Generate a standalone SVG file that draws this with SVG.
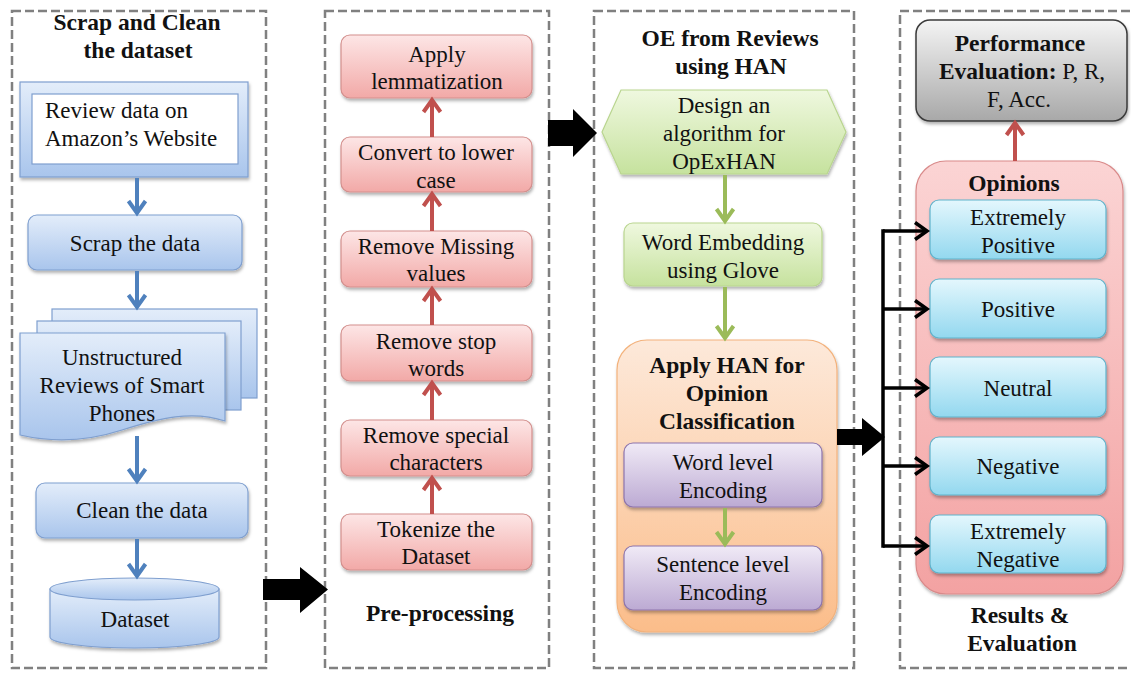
<svg xmlns="http://www.w3.org/2000/svg" width="1131" height="676" viewBox="0 0 1131 676" font-family="'Liberation Serif', 'Times New Roman', serif">
  <style>
    .panel { fill: none; stroke: #808080; stroke-width: 2.5; stroke-dasharray: 9 4; }
    text { font-family: "Liberation Serif", "Times New Roman", serif; font-size: 23px; fill: #111; text-anchor: middle; dominant-baseline: central; }
    .b { font-weight: bold; font-size: 23.5px; }
    .blue { fill: url(#gBlue); stroke: #7f9fcf; stroke-width: 1.2; }
    .red { fill: url(#gRed); stroke: #d38f8d; stroke-width: 1.2; }
    .green { fill: url(#gGreen); stroke: #b9d58f; stroke-width: 1.2; }
    .orange { fill: url(#gOrange); stroke: #f3b27c; stroke-width: 1.2; }
    .purple { fill: url(#gPurple); stroke: #8d75ad; stroke-width: 1.2; }
    .grey { fill: url(#gGrey); stroke: #3a3a3a; stroke-width: 1.5; }
    .pink { fill: url(#gPink); stroke: #d98a8a; stroke-width: 1.2; }
    .cyan { fill: url(#gCyan); stroke: #5fb3cc; stroke-width: 1.2; }
    .shadow { filter: url(#sh); }
    .aBlue { stroke: #4f81bd; stroke-width: 4; fill: none; }
    .aRed { stroke: #c0504d; stroke-width: 4; fill: none; }
    .aGreen { stroke: #9bbb59; stroke-width: 4; fill: none; }
    .aBlack { stroke: #000; stroke-width: 3.5; fill: none; }
    .big { fill: #000; }
  </style>
  <defs>
    <filter id="sh" x="-10%" y="-10%" width="130%" height="140%">
      <feDropShadow dx="1" dy="2.5" stdDeviation="1.5" flood-color="#000" flood-opacity="0.3"/>
    </filter>
    <linearGradient id="gBlue" x1="0" y1="0" x2="0" y2="1">
      <stop offset="0" stop-color="#e3edfa"/><stop offset="1" stop-color="#a9c5ec"/>
    </linearGradient>
    <linearGradient id="gRed" x1="0" y1="0" x2="0" y2="1">
      <stop offset="0" stop-color="#fde6e6"/><stop offset="1" stop-color="#f2a9a7"/>
    </linearGradient>
    <linearGradient id="gGreen" x1="0" y1="0" x2="0" y2="1">
      <stop offset="0" stop-color="#eff8df"/><stop offset="1" stop-color="#c6e29e"/>
    </linearGradient>
    <linearGradient id="gOrange" x1="0" y1="0" x2="0" y2="1">
      <stop offset="0" stop-color="#fde9da"/><stop offset="1" stop-color="#fbbd8a"/>
    </linearGradient>
    <linearGradient id="gPurple" x1="0" y1="0" x2="0" y2="1">
      <stop offset="0" stop-color="#f0eaf6"/><stop offset="1" stop-color="#bcaad3"/>
    </linearGradient>
    <linearGradient id="gGrey" x1="0" y1="0" x2="0" y2="1">
      <stop offset="0" stop-color="#f4f4f4"/><stop offset="1" stop-color="#a8a8a8"/>
    </linearGradient>
    <linearGradient id="gPink" x1="0" y1="0" x2="0" y2="1">
      <stop offset="0" stop-color="#fbd4d4"/><stop offset="1" stop-color="#f3a2a2"/>
    </linearGradient>
    <linearGradient id="gCyan" x1="0" y1="0" x2="0" y2="1">
      <stop offset="0" stop-color="#e4f7fd"/><stop offset="1" stop-color="#93d8ef"/>
    </linearGradient>
    <!-- open chevron arrowhead, tip at the origin, pointing along +x -->
    <path id="chev" d="M-12,-8.5 L0,0 L-12,8.5" stroke-linejoin="miter"/>
  </defs>

  <rect width="1131" height="676" fill="#fff"/>

  <!-- dashed stage panels -->
  <g id="panels">
    <rect class="panel" x="12" y="11" width="254" height="657"/>
    <rect class="panel" x="325" y="11" width="224" height="657"/>
    <rect class="panel" x="594" y="11" width="260" height="657"/>
    <rect class="panel" x="900" y="11" width="240" height="657"/>
  </g>

  <!-- stage titles -->
  <g id="titles">
    <text class="b" x="137" y="22">Scrap and Clean</text>
    <text class="b" x="138" y="50">the dataset</text>
    <text class="b" x="440" y="613">Pre-processing</text>
    <text class="b" x="730" y="38">OE from Reviews</text>
    <text class="b" x="731" y="66">using HAN</text>
    <text class="b" x="1020" y="615">Results &amp;</text>
    <text class="b" x="1022" y="643">Evaluation</text>
  </g>

  <!-- stage 1: scraping and cleaning -->
  <g id="review-data">
    <rect class="blue shadow" x="20" y="82" width="228" height="95"/>
    <rect x="32" y="94" width="206" height="70" fill="#fff" stroke="#7f9fcf" stroke-width="1.2"/>
    <text x="45" y="110" style="text-anchor:start">Review data on</text>
    <text x="45" y="138" style="text-anchor:start">Amazon’s Website</text>
  </g>
  <g id="scrap-data">
    <rect class="blue shadow" x="28" y="215" width="214" height="55" rx="9"/>
    <text x="135" y="243">Scrap the data</text>
  </g>
  <g id="unstructured-reviews">
    <rect class="blue" x="52" y="309" width="205" height="89"/>
    <rect class="blue" x="37" y="321" width="204" height="89"/>
    <path class="blue shadow" d="M20,333 H225 V421 C192,410 160,418 122,430 C85,442 50,442 20,435 Z"/>
    <text x="122" y="357">Unstructured</text>
    <text x="122" y="385">Reviews of Smart</text>
    <text x="122" y="413">Phones</text>
  </g>
  <g id="clean-data">
    <rect class="blue shadow" x="36" y="483" width="212" height="55" rx="9"/>
    <text x="142" y="510">Clean the data</text>
  </g>
  <g id="dataset">
    <path class="blue shadow" d="M50,589 V637 A84.5,11 0 0 0 219,637 V589 Z"/>
    <ellipse class="blue" cx="134.5" cy="589" rx="84.5" ry="11"/>
    <text x="135" y="619">Dataset</text>
  </g>

  <!-- stage 2: pre-processing -->
  <g id="lemmatization">
    <rect class="red shadow" x="341" y="35" width="191" height="63" rx="9"/>
    <text x="437" y="54">Apply</text>
    <text x="437" y="81">lemmatization</text>
  </g>
  <g id="lower-case">
    <rect class="red shadow" x="341" y="137" width="191" height="55" rx="9"/>
    <text x="436" y="152">Convert to lower</text>
    <text x="436" y="180">case</text>
  </g>
  <g id="missing-values">
    <rect class="red shadow" x="341" y="231" width="191" height="56" rx="9"/>
    <text x="436" y="246">Remove Missing</text>
    <text x="436" y="273">values</text>
  </g>
  <g id="stop-words">
    <rect class="red shadow" x="341" y="325" width="191" height="56" rx="9"/>
    <text x="436" y="341">Remove stop</text>
    <text x="436" y="368">words</text>
  </g>
  <g id="special-characters">
    <rect class="red shadow" x="341" y="420" width="191" height="56" rx="9"/>
    <text x="436" y="435">Remove special</text>
    <text x="436" y="462">characters</text>
  </g>
  <g id="tokenize">
    <rect class="red shadow" x="341" y="514" width="191" height="56" rx="9"/>
    <text x="436" y="529">Tokenize the</text>
    <text x="436" y="556">Dataset</text>
  </g>

  <!-- stage 3: opinion extraction with HAN -->
  <g id="design-algorithm">
    <polygon class="green shadow" points="602,132 621,90 827,90 846,132 827,174 621,174"/>
    <text x="724" y="105">Design an</text>
    <text x="724" y="133">algorithm for</text>
    <text x="724" y="161">OpExHAN</text>
  </g>
  <g id="word-embedding">
    <rect class="green shadow" x="624" y="223" width="198" height="63" rx="9"/>
    <text x="723" y="242">Word Embedding</text>
    <text x="723" y="270">using Glove</text>
  </g>
  <g id="apply-han">
    <rect class="orange shadow" x="617" y="340" width="220" height="292" rx="30"/>
    <text class="b" x="727" y="365">Apply HAN for</text>
    <text class="b" x="727" y="393">Opinion</text>
    <text class="b" x="727" y="421">Classification</text>
  </g>
  <g id="word-level">
    <rect class="purple shadow" x="624" y="443" width="198" height="64" rx="9"/>
    <text x="723" y="462">Word level</text>
    <text x="723" y="490">Encoding</text>
  </g>
  <g id="sentence-level">
    <rect class="purple shadow" x="624" y="546" width="198" height="64" rx="9"/>
    <text x="723" y="564">Sentence level</text>
    <text x="723" y="592">Encoding</text>
  </g>

  <!-- stage 4: results and evaluation -->
  <g id="performance">
    <rect class="grey shadow" x="916" y="20" width="211" height="101" rx="14"/>
    <text class="b" x="1020" y="43">Performance</text>
    <text x="1022" y="71"><tspan class="b">Evaluation:</tspan> P, R,</text>
    <text x="1019" y="99">F, Acc.</text>
  </g>
  <g id="opinions">
    <rect class="pink shadow" x="916" y="161" width="207" height="433" rx="30"/>
    <text class="b" x="1014" y="183">Opinions</text>
  </g>
  <g id="extremely-positive">
    <rect class="cyan shadow" x="930" y="200" width="176" height="59" rx="9"/>
    <text x="1018" y="217">Extremely</text>
    <text x="1018" y="245">Positive</text>
  </g>
  <g id="positive">
    <rect class="cyan shadow" x="930" y="279" width="176" height="59" rx="9"/>
    <text x="1018" y="309">Positive</text>
  </g>
  <g id="neutral">
    <rect class="cyan shadow" x="930" y="357" width="176" height="60" rx="9"/>
    <text x="1018" y="388">Neutral</text>
  </g>
  <g id="negative">
    <rect class="cyan shadow" x="930" y="437" width="176" height="58" rx="9"/>
    <text x="1018" y="466">Negative</text>
  </g>
  <g id="extremely-negative">
    <rect class="cyan shadow" x="930" y="515" width="176" height="58" rx="9"/>
    <text x="1018" y="531">Extremely</text>
    <text x="1018" y="559">Negative</text>
  </g>

  <!-- connectors, drawn over the shapes -->
  <g id="connectors">
    <g class="aBlue">
      <line x1="137" y1="178" x2="137" y2="212"/>
      <use href="#chev" transform="translate(137,213) rotate(90)"/>
      <line x1="137" y1="271" x2="137" y2="306"/>
      <use href="#chev" transform="translate(137,307) rotate(90)"/>
      <line x1="137" y1="436" x2="137" y2="480"/>
      <use href="#chev" transform="translate(137,481) rotate(90)"/>
      <line x1="137" y1="539" x2="137" y2="575"/>
      <use href="#chev" transform="translate(137,576) rotate(90)"/>
    </g>
    <g class="aRed">
      <line x1="432" y1="514" x2="432" y2="479"/>
      <use href="#chev" transform="translate(432,478) rotate(-90)"/>
      <line x1="432" y1="420" x2="432" y2="384"/>
      <use href="#chev" transform="translate(432,383) rotate(-90)"/>
      <line x1="432" y1="325" x2="432" y2="290"/>
      <use href="#chev" transform="translate(432,289) rotate(-90)"/>
      <line x1="432" y1="231" x2="432" y2="195"/>
      <use href="#chev" transform="translate(432,194) rotate(-90)"/>
      <line x1="432" y1="137" x2="432" y2="101"/>
      <use href="#chev" transform="translate(432,100) rotate(-90)"/>
      <line x1="1015" y1="161" x2="1015" y2="124"/>
      <use href="#chev" transform="translate(1015,123) rotate(-90)"/>
    </g>
    <g class="aGreen">
      <line x1="725" y1="175" x2="725" y2="220"/>
      <use href="#chev" transform="translate(725,221) rotate(90)"/>
      <line x1="725" y1="287" x2="725" y2="337"/>
      <use href="#chev" transform="translate(725,338) rotate(90)"/>
      <line x1="725" y1="508" x2="725" y2="543"/>
      <use href="#chev" transform="translate(725,544) rotate(90)"/>
    </g>
    <g class="aBlack">
      <line x1="883" y1="229.25" x2="883" y2="547.75"/>
      <line x1="883" y1="231" x2="926" y2="231"/>
      <use href="#chev" transform="translate(927,231)"/>
      <line x1="883" y1="309" x2="926" y2="309"/>
      <use href="#chev" transform="translate(927,309)"/>
      <line x1="883" y1="388" x2="926" y2="388"/>
      <use href="#chev" transform="translate(927,388)"/>
      <line x1="883" y1="466" x2="926" y2="466"/>
      <use href="#chev" transform="translate(927,466)"/>
      <line x1="883" y1="546" x2="926" y2="546"/>
      <use href="#chev" transform="translate(927,546)"/>
    </g>

    <polygon class="big" points="263,579 300,579 300,567 328,589.5 300,613 300,600 263,600"/>
    <polygon class="big" points="548,120 573,120 573,109 597,133 573,157 573,146 548,146"/>
    <polygon class="big" points="837,429 862,429 862,418 885,437 862,456 862,445 837,445"/>
  </g>
</svg>
